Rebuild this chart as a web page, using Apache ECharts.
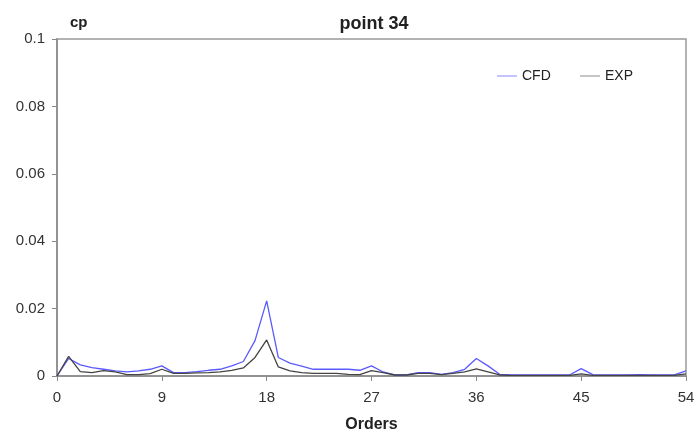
<!DOCTYPE html>
<html><head><meta charset="utf-8">
<script src="https://cdn.jsdelivr.net/npm/echarts@6/dist/echarts.min.js"></script>
<style>html,body{margin:0;padding:0;background:#fff}#c{width:696px;height:432px}</style>
</head><body><div id="c"></div>
<script>
const orders = [0,1,2,3,4,5,6,7,8,9,10,11,12,13,14,15,16,17,18,19,20,21,22,23,24,25,26,27,28,29,30,31,32,33,34,35,36,37,38,39,40,41,42,43,44,45,46,47,48,49,50,51,52,53,54];
const cfd = [0,0.0052,0.0033,0.0025,0.002,0.0015,0.0012,0.0015,0.002,0.003,0.001,0.001,0.0013,0.0017,0.002,0.003,0.0043,0.0105,0.0223,0.0055,0.0038,0.0029,0.002,0.002,0.002,0.002,0.0017,0.003,0.0012,0.0003,0.0003,0.001,0.001,0.0005,0.001,0.002,0.0052,0.003,0.0005,0.0003,0.0003,0.0003,0.0003,0.0003,0.0003,0.0022,0.0004,0.0003,0.0003,0.0003,0.0004,0.0003,0.0003,0.0003,0.0015];
const exp = [0,0.0058,0.0013,0.001,0.0016,0.0012,0.0004,0.0004,0.0007,0.002,0.0008,0.0008,0.0009,0.001,0.0012,0.0017,0.0024,0.0055,0.0107,0.0027,0.0015,0.001,0.0008,0.0008,0.0008,0.0005,0.0004,0.0016,0.001,0.0003,0.0003,0.0008,0.0008,0.0004,0.0008,0.0012,0.0021,0.0012,0.0003,0.0002,0.0002,0.0002,0.0002,0.0002,0.0002,0.0006,0.0002,0.0002,0.0002,0.0002,0.0002,0.0002,0.0002,0.0002,0.0006];
const xTicks = {min:0, max:54, interval:9};
const yTicks = {min:0, max:0.1, interval:0.02};

const chart = echarts.init(document.getElementById('c'), null, {renderer:'canvas'});
const font = 'Liberation Sans, Arial, sans-serif';
const lineIcon = 'path://M0,5 L20,5 L20,6.2 L0,6.2 Z';
const legendText = {fontFamily:font, fontSize:14, color:'#222'};
chart.setOption({
  animation:false,
  backgroundColor:'#fff',
  title:{text:'point 34', left:369, top:10, textAlign:'center',
    textStyle:{fontFamily:font, fontSize:18, fontWeight:'bold', color:'#222'}},
  legend:[
    {left:497, top:69, padding:0, itemWidth:20, itemHeight:10, itemGap:3, textStyle:legendText,
      data:[{name:'CFD', icon:lineIcon}]},
    {left:580, top:69, padding:0, itemWidth:20, itemHeight:10, itemGap:3, textStyle:legendText,
      data:[{name:'EXP', icon:lineIcon}]}
  ],
  grid:{left:57, right:10, top:39, bottom:56, containLabel:false, outerBoundsMode:'none',
    show:true, borderColor:'#999', borderWidth:1.5},
  xAxis:{type:'value', min:xTicks.min, max:xTicks.max, interval:xTicks.interval,
    name:'Orders', nameLocation:'middle', nameGap:41,
    nameTextStyle:{fontFamily:font, fontSize:16, fontWeight:'bold', color:'#222'},
    axisLine:{lineStyle:{color:'#888', width:1.5}}, axisTick:{show:true, length:5, lineStyle:{color:'#888'}},
    axisLabel:{fontFamily:font, fontSize:15, color:'#333', margin:14},
    splitLine:{show:false}},
  yAxis:{type:'value', min:yTicks.min, max:yTicks.max, interval:yTicks.interval,
    name:'cp', nameLocation:'end', nameGap:9,
    nameTextStyle:{fontFamily:font, fontSize:15, fontWeight:'bold', color:'#222', align:'left', padding:[0,0,0,13]},
    axisLine:{show:true, lineStyle:{color:'#888', width:1.5}}, axisTick:{show:true, length:5, lineStyle:{color:'#888'}},
    axisLabel:{fontFamily:font, fontSize:15, color:'#333', margin:12},
    splitLine:{show:false}},
  series:[
    {name:'CFD', type:'line', symbol:'none', data:orders.map((o,i)=>[o,cfd[i]]),
      lineStyle:{color:'#5a5aff', width:1.3}, itemStyle:{color:'#9a9aff'}, z:2},
    {name:'EXP', type:'line', symbol:'none', data:orders.map((o,i)=>[o,exp[i]]),
      lineStyle:{color:'#444', width:1.3}, itemStyle:{color:'#a0a0a0'}, z:3}
  ]
});
</script></body></html>
